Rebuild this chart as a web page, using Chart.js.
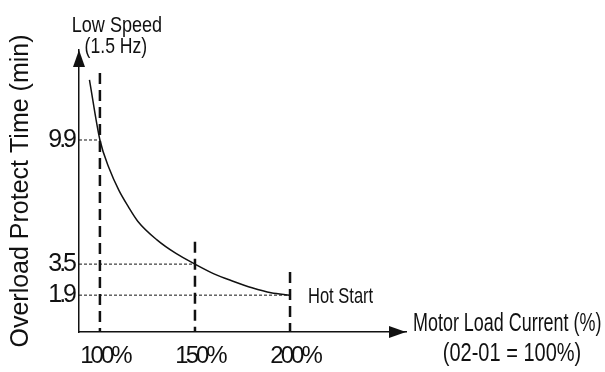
<!DOCTYPE html>
<html>
<head>
<meta charset="utf-8">
<script src="https://cdn.jsdelivr.net/npm/chart.js@4.4.1/dist/chart.umd.min.js"></script>
<style>
  html, body { margin: 0; padding: 0; background: #fff; }
</style>
</head>
<body>
<canvas id="chart" width="605" height="372"></canvas>
<script>
// overload curve (motor load % -> minutes)
const curveLoad = [94.5, 100, 105, 110, 115, 120, 130, 140, 150, 160, 170, 180, 190, 200];
const curveTime = [13.0, 9.9, 8.4, 7.3, 6.45, 5.7, 4.75, 4.05, 3.5, 3.0, 2.62, 2.28, 2.02, 1.9];

// the three marked points and where their dashed verticals stop
const markLoad = [100, 150, 200];
const markTime = [9.9, 3.5, 1.9];
const markTop = [13.35, 4.65, 3.1];

const xTicks = [100, 150, 200];
const yTicks = [1.9, 3.5, 9.9];

const X_MIN = 89, X_MAX = 261;
const Y_MIN = 0, Y_MAX = 14.54;

const INK = '#111';
const SANS = "'Liberation Sans', Arial, sans-serif";

const datasets = [];

// main curve
datasets.push({
  data: curveLoad.map((x, i) => ({ x: x, y: curveTime[i] })),
  borderColor: INK,
  borderWidth: 1.5,
  pointRadius: 0,
  cubicInterpolationMode: 'monotone'
});

// long-dash verticals at 100 / 150 / 200 %
markLoad.forEach((x, i) => {
  datasets.push({
    data: [{ x: x, y: markTop[i] }, { x: x, y: Y_MIN }],
    borderColor: INK,
    borderWidth: 2.5,
    borderDash: [11, 6],
    pointRadius: 0
  });
});

// short dotted guides from the y axis to each marked point
markLoad.forEach((x, i) => {
  datasets.push({
    data: [{ x: X_MIN, y: markTime[i] }, { x: x, y: markTime[i] }],
    borderColor: INK,
    borderWidth: 1,
    borderDash: [3, 2],
    pointRadius: 0
  });
});

// tick labels are drawn after the datasets (ticks.z = 1), so squeeze them here
const squeezeTicks = {
  id: 'squeezeTicks',
  afterDatasetsDraw(chart) { chart.ctx.letterSpacing = '-3px'; },
  afterDraw(chart) { chart.ctx.letterSpacing = '0px'; }
};

// arrows on the axes and the free-standing labels
const decorations = {
  id: 'decorations',
  afterDraw(chart) {
    const { ctx, chartArea: a, scales: { x, y } } = chart;
    ctx.save();
    ctx.fillStyle = INK;
    ctx.letterSpacing = '0px';

    // y arrow
    ctx.beginPath();
    ctx.moveTo(a.left, a.top);
    ctx.lineTo(a.left - 6, a.top + 17);
    ctx.lineTo(a.left + 6, a.top + 17);
    ctx.closePath();
    ctx.fill();

    // x arrow
    ctx.beginPath();
    ctx.moveTo(a.right, a.bottom);
    ctx.lineTo(a.right - 17, a.bottom - 6);
    ctx.lineTo(a.right - 17, a.bottom + 6);
    ctx.closePath();
    ctx.fill();

    // condensed text: squeeze horizontally like the original lettering
    const text = (str, px, py, size, align, sx) => {
      ctx.save();
      ctx.font = size + 'px ' + SANS;
      ctx.textAlign = align;
      ctx.textBaseline = 'alphabetic';
      ctx.translate(px, py);
      ctx.scale(sx, 1);
      ctx.fillText(str, 0, 0);
      ctx.restore();
    };

    const x100 = x.getPixelForValue(100);
    text('Low Speed', x100 + 17, 32, 22, 'center', 0.82);
    text('(1.5 Hz)', x100 + 16, 53, 22, 'center', 0.8);
    text('Hot Start', x.getPixelForValue(200) + 18, y.getPixelForValue(1.9) + 8, 22, 'left', 0.75);
    text('Motor Load Current (%)', a.right + 7, a.bottom - 1, 26, 'left', 0.69);
    text('(02-01 = 100%)', a.right + 106, a.bottom + 29, 25, 'center', 0.8);

    ctx.restore();
  }
};

new Chart(document.getElementById('chart'), {
  type: 'line',
  data: { datasets: datasets },
  options: {
    responsive: false,
    animation: false,
    devicePixelRatio: 1,
    layout: { padding: { top: 50, right: 199, left: 0, bottom: 0 } },
    plugins: {
      legend: { display: false },
      tooltip: { enabled: false }
    },
    scales: {
      x: {
        type: 'linear',
        min: X_MIN,
        max: X_MAX,
        bounds: 'data',
        afterBuildTicks: s => { s.ticks = xTicks.map(v => ({ value: v })); },
        afterFit: s => { s.height = 40; },
        grid: { display: false, drawTicks: false },
        border: { display: true, color: INK, width: 1.5 },
        ticks: {
          z: 1,
          callback: v => v + '%',
          font: { family: SANS, size: 24 },
          color: INK,
          padding: 10,
          labelOffset: 5,
          autoSkip: false,
          maxRotation: 0
        }
      },
      y: {
        type: 'linear',
        min: Y_MIN,
        max: Y_MAX,
        bounds: 'data',
        afterBuildTicks: s => { s.ticks = yTicks.map(v => ({ value: v })); },
        afterFit: s => { s.width = 79; },
        grid: { display: false, drawTicks: false },
        border: { display: true, color: INK, width: 1.5 },
        ticks: {
          z: 1,
          callback: v => v.toFixed(1),
          font: { family: SANS, size: 25 },
          color: INK,
          padding: 5
        },
        title: {
          display: true,
          text: 'Overload Protect Time (min)',
          font: { family: SANS, size: 25 },
          color: INK,
          padding: { top: 6, bottom: 0 }
        }
      }
    }
  },
  plugins: [squeezeTicks, decorations]
});
</script>
</body>
</html>
